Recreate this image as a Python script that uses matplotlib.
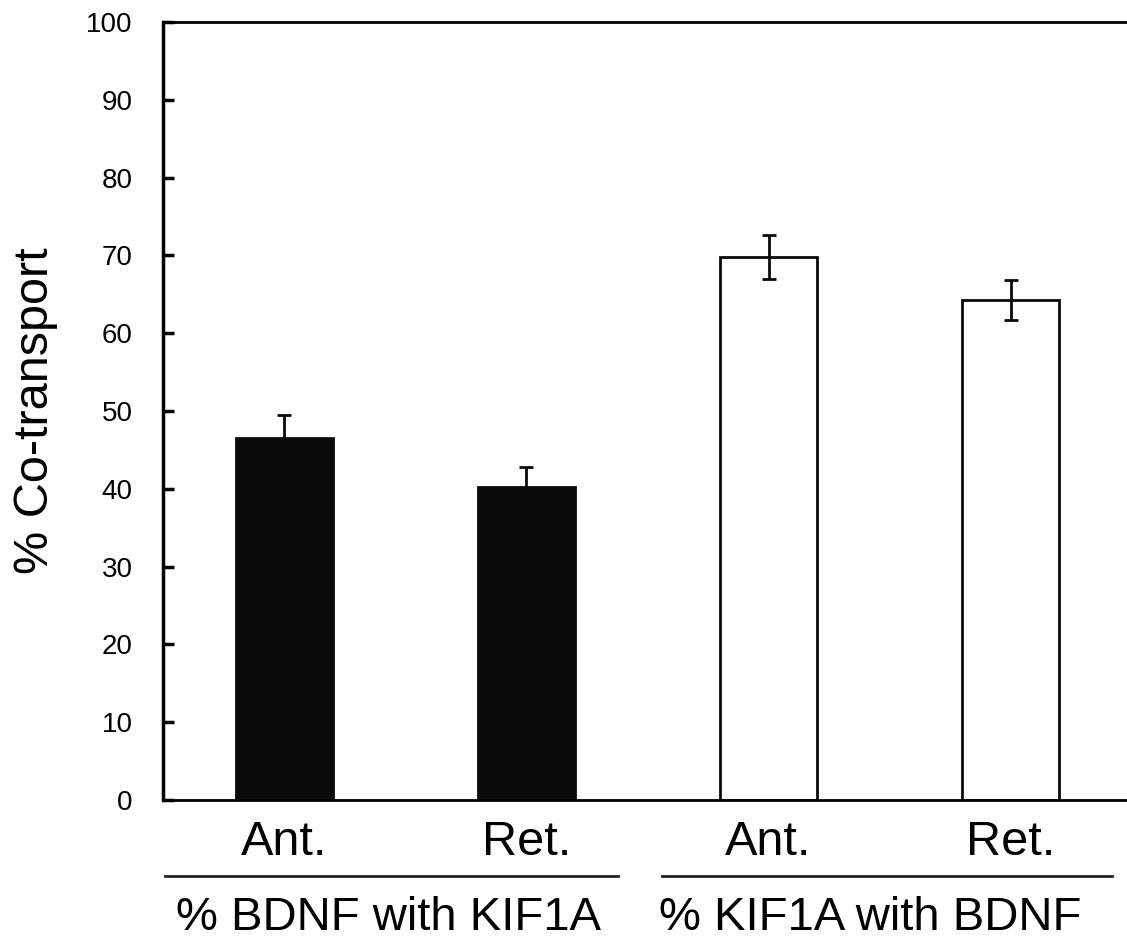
import matplotlib.pyplot as plt
from matplotlib.transforms import blended_transform_factory

plt.rcParams['font.family'] = ['Liberation Sans', 'DejaVu Sans']

# data
categories = ['Ant.', 'Ret.', 'Ant.', 'Ret.']
values = [46.5, 40.2, 69.8, 64.3]
errors = [3.0, 2.6, 2.8, 2.6]
groups = ['% BDNF with KIF1A', '% KIF1A with BDNF']
face_colors = ['#0a0a0a', '#0a0a0a', 'white', 'white']

x = list(range(len(values)))

fig = plt.figure(figsize=(11.27, 9.41), dpi=100)
ax = fig.add_axes([0.1446, 0.1498, 0.8554, 0.8268])

ax.bar(x, values, width=0.4, color=face_colors, edgecolor='#0a0a0a', linewidth=2,
       yerr=errors, capsize=5, error_kw=dict(elinewidth=2, capthick=2, ecolor='#0a0a0a'))

ax.set_xlim(-0.5, 3.48)
ax.set_ylim(0, 100)
ax.set_yticks(range(0, 101, 10))
ax.tick_params(axis='y', direction='in', length=8, width=2.5, labelsize=20, pad=22)
ax.set_xticks([])

ax.spines['right'].set_visible(False)
ax.spines['left'].set_linewidth(2.5)
ax.spines['bottom'].set_linewidth(2)
ax.spines['top'].set_linewidth(2)

ax.set_ylabel('% Co-transport', fontsize=35)
ax.yaxis.set_label_coords(-0.109, 0.5)

trans = blended_transform_factory(ax.transData, ax.transAxes)
for xi, lab in zip(x, categories):
    ax.text(xi, -0.055, lab, transform=trans, ha='center', va='center', fontsize=35)

# group underlines and labels
spans = [(-0.49, 1.38), (1.56, 3.42)]
label_x = [0.43, 2.42]
for (a, b), lx, g in zip(spans, label_x, groups):
    ax.plot([a, b], [-0.098, -0.098], transform=trans, color='#222222', lw=2, clip_on=False)
    ax.text(lx, -0.152, g, transform=trans, ha='center', va='center', fontsize=34)

fig.savefig('out.png', dpi=100)
